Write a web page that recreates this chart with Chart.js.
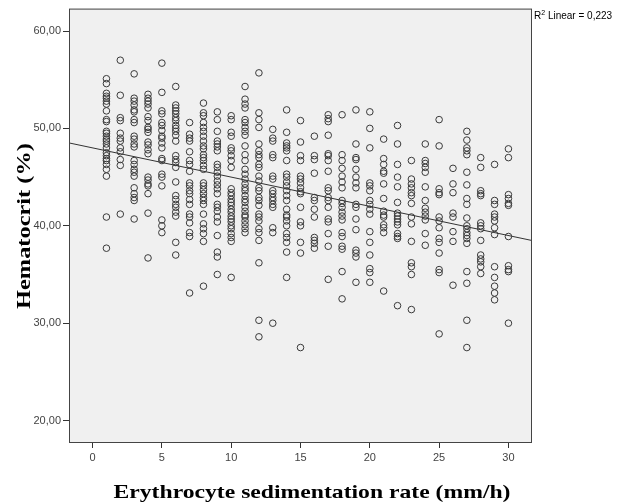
<!DOCTYPE html>
<html>
<head>
<meta charset="utf-8">
<script src="https://cdn.jsdelivr.net/npm/chart.js@4/dist/chart.umd.min.js"></script>
<style>
  html, body { margin: 0; padding: 0; background: #fff; }
  #wrap { width: 617px; height: 504px; }
</style>
</head>
<body>
<div id="wrap"><canvas id="scatter" width="617" height="504"></canvas></div>
<script>
// ESR (mm/h) levels and the hematocrit values read at each level
const esrLevels = [1, 2, 3, 4, 5, 6, 7, 8, 9, 10, 11, 12, 13, 14, 15, 16, 17, 18, 19, 20, 21, 22, 23, 24, 25, 26, 27, 28, 29, 30];
const hctAtEsr = [
  [55.1, 54.6, 53.6, 53.3, 53.1, 52.8, 52.5, 51.8, 50.9, 50.7, 49.7, 49.5, 49.2, 48.9, 48.7, 48.4, 48.0, 47.5, 47.2, 46.9, 46.7, 46.3, 45.8, 45.1, 40.9, 37.7],
  [57.0, 53.4, 51.1, 50.8, 49.5, 49.0, 48.7, 48.0, 47.6, 46.8, 46.2, 41.2],
  [55.6, 53.1, 52.8, 52.4, 51.9, 51.7, 50.9, 50.6, 49.2, 48.9, 48.4, 48.1, 46.7, 46.3, 45.8, 45.5, 45.1, 43.9, 43.3, 42.9, 42.6, 40.7],
  [53.5, 53.1, 52.8, 52.5, 52.1, 51.2, 50.8, 50.1, 49.9, 49.6, 48.6, 48.3, 47.8, 47.4, 45.0, 44.7, 44.3, 44.1, 43.3, 41.3, 36.7],
  [56.7, 53.7, 51.8, 51.5, 50.6, 50.3, 49.8, 49.2, 49.0, 48.5, 48.0, 46.9, 46.7, 45.3, 45.0, 44.1, 40.6, 40.0, 39.3],
  [54.3, 52.4, 52.1, 51.8, 51.5, 51.1, 50.8, 50.3, 50.0, 49.7, 49.3, 48.7, 47.2, 46.8, 46.5, 46.0, 44.5, 43.1, 42.7, 42.2, 41.9, 41.4, 41.0, 38.3, 37.0],
  [50.6, 49.4, 49.0, 48.7, 47.6, 46.7, 46.3, 45.6, 44.4, 44.1, 43.6, 43.3, 42.7, 42.2, 41.2, 40.9, 40.3, 39.3, 38.9, 33.1],
  [52.6, 51.6, 51.3, 50.6, 50.1, 49.7, 49.2, 48.7, 48.2, 47.9, 47.3, 47.0, 46.7, 46.2, 45.8, 44.4, 44.1, 43.7, 43.3, 42.9, 42.6, 42.2, 41.2, 40.2, 39.7, 39.2, 38.4, 33.8],
  [51.7, 50.9, 49.7, 48.7, 48.4, 48.1, 47.7, 46.3, 46.0, 45.5, 45.1, 44.6, 44.2, 43.8, 43.3, 42.2, 41.9, 41.5, 40.9, 40.4, 39.0, 37.3, 36.8, 35.0],
  [51.3, 50.9, 49.6, 49.2, 48.0, 47.7, 47.2, 46.7, 46.0, 43.8, 43.4, 43.1, 42.7, 42.4, 42.1, 41.7, 41.4, 41.0, 40.7, 40.4, 40.0, 39.7, 39.2, 38.8, 38.4, 34.7],
  [54.3, 53.0, 52.5, 52.1, 50.9, 50.6, 50.1, 49.7, 49.3, 48.2, 47.3, 46.7, 45.8, 45.3, 44.8, 44.3, 43.9, 43.6, 43.1, 42.7, 42.4, 41.9, 41.5, 41.1, 40.9, 40.5, 40.1, 39.7, 39.3],
  [55.7, 51.6, 50.9, 50.1, 48.4, 47.7, 47.3, 47.0, 46.3, 46.0, 45.1, 44.6, 43.9, 43.6, 42.9, 42.6, 42.1, 41.2, 40.9, 40.5, 39.7, 39.3, 38.5, 36.2, 30.3, 28.6],
  [49.9, 49.0, 48.7, 47.3, 47.0, 45.1, 44.8, 43.6, 43.3, 42.9, 42.6, 42.2, 41.9, 39.8, 39.3, 30.0],
  [51.9, 49.6, 48.5, 48.2, 48.0, 47.7, 46.7, 45.3, 45.0, 44.5, 44.1, 43.6, 43.1, 42.6, 41.7, 41.1, 40.9, 40.5, 40.0, 39.2, 38.8, 38.3, 37.3, 34.7],
  [50.8, 48.6, 47.2, 46.7, 45.1, 44.8, 44.4, 43.9, 43.5, 43.3, 41.9, 40.4, 40.0, 38.3, 37.2, 27.5],
  [49.2, 47.2, 46.8, 45.4, 42.9, 42.6, 41.7, 40.9, 38.8, 38.5, 38.2, 37.7],
  [51.4, 51.0, 50.7, 49.3, 47.4, 47.2, 46.7, 45.6, 43.9, 43.6, 42.9, 42.6, 41.9, 40.7, 40.4, 39.2, 37.9, 34.5],
  [51.4, 47.3, 46.7, 45.9, 45.1, 44.5, 43.9, 42.6, 42.3, 41.9, 41.4, 41.0, 40.6, 39.3, 38.9, 37.9, 37.6, 35.3, 32.5],
  [51.9, 48.4, 47.0, 46.8, 45.8, 45.0, 44.4, 43.9, 42.2, 41.9, 40.7, 39.6, 37.5, 37.2, 36.8, 34.2],
  [51.7, 50.0, 48.0, 44.4, 44.1, 43.6, 42.6, 42.2, 41.7, 41.2, 39.4, 38.3, 37.0, 35.6, 35.2, 34.2],
  [48.9, 46.9, 46.3, 45.6, 45.4, 44.3, 42.8, 41.5, 41.1, 40.9, 40.1, 39.8, 39.3, 33.3],
  [50.3, 48.4, 46.3, 45.0, 44.0, 42.4, 41.3, 41.0, 40.7, 40.4, 40.1, 39.2, 38.9, 38.7, 31.8],
  [46.7, 44.8, 44.3, 43.9, 43.4, 43.1, 42.3, 40.9, 40.2, 38.4, 36.2, 35.8, 35.0, 31.4],
  [48.4, 46.7, 46.4, 46.0, 45.5, 44.0, 42.6, 41.8, 41.4, 41.0, 40.6, 39.2, 38.0],
  [50.9, 48.2, 43.8, 43.4, 43.2, 40.9, 40.5, 39.8, 38.7, 38.3, 37.2, 35.5, 35.2, 28.9],
  [45.9, 44.3, 43.4, 41.3, 40.9, 39.4, 38.4, 33.9],
  [49.7, 48.8, 48.0, 47.7, 47.3, 45.5, 44.2, 42.8, 42.2, 40.8, 40.0, 39.7, 39.3, 39.0, 38.7, 38.2, 35.3, 34.1, 30.3, 27.5],
  [47.0, 46.0, 43.6, 43.3, 43.1, 40.3, 40.0, 39.7, 38.5, 37.0, 36.6, 36.3, 35.8, 35.1],
  [46.3, 42.6, 42.2, 41.2, 40.9, 40.5, 39.8, 39.1, 35.8, 34.7, 33.8, 33.1, 32.4],
  [47.9, 47.0, 43.2, 42.8, 42.3, 42.1, 38.9, 35.9, 35.5, 35.3, 30.0]
];

// fit line as printed by SPSS
const fitIntercept = 48.0;
const fitSlope = -0.30;
const rSquared = "0,223";

const xTicks = [0, 5, 10, 15, 20, 25, 30];
const yTicks = [20, 30, 40, 50, 60];
const xMin = -1.7, xMax = 31.7;
const yMin = 17.7, yMax = 62.3;
const xTitle = "Erythrocyte sedimentation rate (mm/h)";
const yTitle = "Hematocrit (%)";

const points = [];
esrLevels.forEach((esr, i) => {
  hctAtEsr[i].forEach((hct) => points.push({ x: esr, y: hct }));
});
const fitLine = [xMin, xMax].map((x) => ({ x: x, y: fitIntercept + fitSlope * x }));

// the axis titles in the picture are stretched along the reading direction
const drawStretched = (ctx, text, width) => {
  const w = ctx.measureText(text).width;
  ctx.scale(width / w, 1);
  ctx.fillText(text, 0, 0);
};

const plotFrame = {
  id: "plotFrame",
  beforeDraw(chart) {
    const { ctx, chartArea: a } = chart;
    ctx.save();
    ctx.fillStyle = "#f0f0f0";
    ctx.fillRect(a.left, a.top, a.right - a.left, a.bottom - a.top);
    ctx.restore();
  },
  afterDraw(chart) {
    const { ctx, chartArea: a } = chart;
    ctx.save();
    ctx.strokeStyle = "#444";
    ctx.lineWidth = 1;
    ctx.strokeRect(a.left + 0.5, a.top + 0.5, a.right - a.left - 1, a.bottom - a.top - 1);

    // R² label on the right of the frame
    ctx.fillStyle = "#000";
    ctx.textBaseline = "alphabetic";
    let x = a.right + 2;
    const y = a.top + 10;
    ctx.font = "10px 'Liberation Sans', Arial, sans-serif";
    ctx.fillText("R", x, y);
    x += ctx.measureText("R").width;
    ctx.font = "7px 'Liberation Sans', Arial, sans-serif";
    ctx.fillText("2", x, y - 4);
    x += ctx.measureText("2").width;
    ctx.font = "10px 'Liberation Sans', Arial, sans-serif";
    ctx.fillText(" Linear = " + rSquared, x, y);
    ctx.restore();

    // axis titles
    ctx.save();
    ctx.font = "bold 19px 'Liberation Serif', 'Times New Roman', serif";
    ctx.fillStyle = "#000";
    ctx.textAlign = "center";
    ctx.textBaseline = "alphabetic";
    ctx.save();
    ctx.translate(312, 498);
    drawStretched(ctx, xTitle, 397);
    ctx.restore();
    ctx.save();
    ctx.translate(29.5, 226);
    ctx.rotate(-Math.PI / 2);
    drawStretched(ctx, yTitle, 166);
    ctx.restore();
    ctx.restore();
  },
};

const tickFont = { family: "'Liberation Sans', Arial, sans-serif", size: 11 };

new Chart(document.getElementById("scatter"), {
  type: "scatter",
  data: {
    datasets: [
      {
        data: points,
        pointRadius: 3.3,
        pointHoverRadius: 3.3,
        borderWidth: 1,
        borderColor: "#3a3a3a",
        backgroundColor: "rgba(0,0,0,0)",
      },
      {
        type: "line",
        data: fitLine,
        borderColor: "#333",
        borderWidth: 1,
        pointRadius: 0,
        fill: false,
      },
    ],
  },
  options: {
    responsive: false,
    animation: false,
    layout: { padding: { top: 7, right: 85, left: 0, bottom: 0 } },
    plugins: {
      legend: { display: false },
      tooltip: { enabled: false },
    },
    scales: {
      x: {
        type: "linear",
        min: xMin,
        max: xMax,
        afterBuildTicks: (scale) => { scale.ticks = xTicks.map((v) => ({ value: v })); },
        afterFit: (scale) => { scale.height = 61; },
        border: { display: false },
        grid: { drawOnChartArea: false, drawTicks: true, tickLength: 5, color: "#333" },
        ticks: { color: "#444", font: tickFont, padding: 3, maxRotation: 0 },
      },
      y: {
        type: "linear",
        min: yMin,
        max: yMax,
        afterBuildTicks: (scale) => { scale.ticks = yTicks.map((v) => ({ value: v })); },
        afterFit: (scale) => { scale.width = 69; },
        border: { display: false },
        grid: { drawOnChartArea: false, drawTicks: true, tickLength: 6, color: "#333" },
        ticks: {
          color: "#444",
          font: tickFont,
          padding: 2,
          callback: (v) => v.toFixed(2).replace(".", ","),
        },
      },
    },
  },
  plugins: [plotFrame],
});
</script>
</body>
</html>
